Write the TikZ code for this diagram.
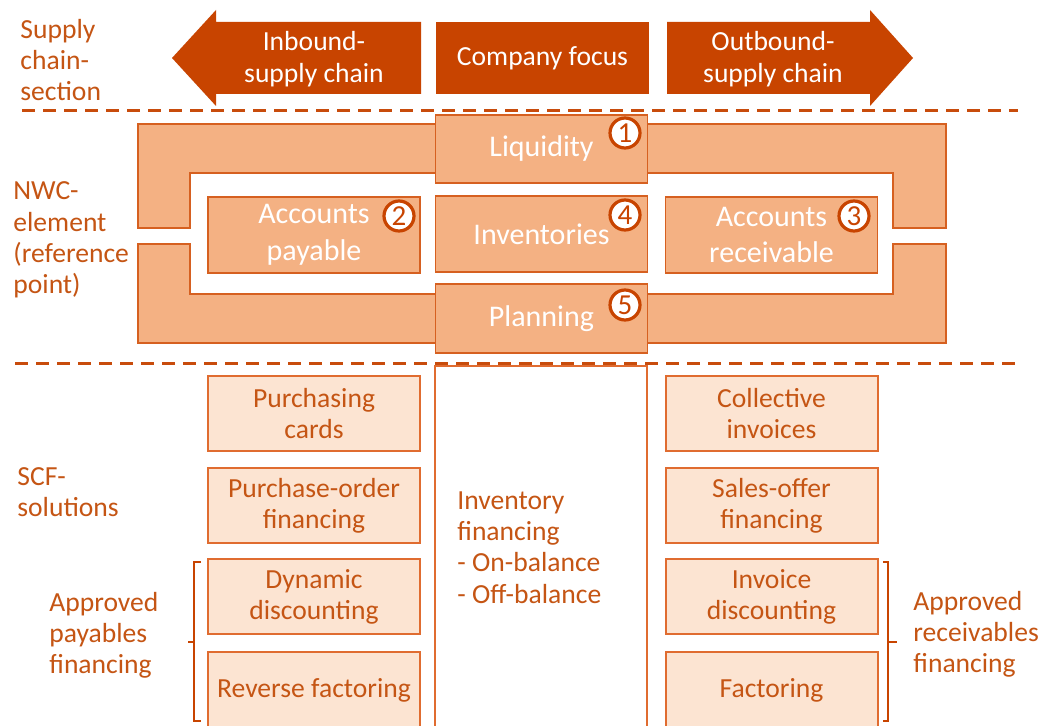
\documentclass[tikz,border=0pt]{standalone}
\usepackage{fontspec}
\setmainfont{Carlito}
\definecolor{arrowor}{RGB}{200,68,0}
\definecolor{textor}{RGB}{197,85,20}
\definecolor{nwcfill}{RGB}{244,177,131}
\definecolor{nwcline}{RGB}{214,96,32}
\definecolor{scffill}{RGB}{252,228,210}
\definecolor{scfline}{RGB}{224,108,48}
\definecolor{dashor}{RGB}{200,76,12}
\begin{document}
\begin{tikzpicture}[x=0.5pt,y=-0.5pt,
  nwcbox/.style={draw=nwcline, fill=nwcfill, line width=0.75pt, text=white,
    font=\fontsize{15}{18.3}\selectfont, align=center, inner sep=0pt,
    minimum width=106pt},
  numc/.style={circle, draw=arrowor, fill=white, line width=1.6pt, text=arrowor,
    font=\fontsize{14.5}{14.5}\selectfont, inner sep=0pt, minimum size=15pt},
  scfbox/.style={draw=scfline, fill=scffill, line width=1pt, text=textor,
    font=\fontsize{13.8}{15.5}\selectfont, align=center, inner sep=0pt,
    minimum width=106pt, minimum height=37.5pt},
  toptext/.style={text=white, font=\fontsize{13.8}{15.75}\selectfont, align=center, inner sep=0pt},
  sidelbl/.style={text=textor, font=\fontsize{13.8}{15.6}\selectfont, align=left, inner sep=0pt, anchor=west},
  sepline/.style={draw=dashor, line width=1.5pt, dash pattern=on 6.5pt off 4pt},
  bracketline/.style={draw=arrowor, line width=1.25pt},
  frameshape/.style={draw=nwcline, fill=nwcfill, line width=0.75pt}
]
\useasboundingbox (0,0) rectangle (1043,726);
\fill[white] (0,0) rectangle (1043,726);

% --- supply chain section ---
\fill[arrowor] (172,58) -- (216,10) -- (216,22) -- (421,22) -- (421,94) -- (216,94) -- (216,106) -- cycle;
\fill[arrowor] (667,22) -- (870,22) -- (870,10) -- (913,58) -- (870,106) -- (870,94) -- (667,94) -- cycle;
\node[toptext] (inb) at (314,59) {Inbound-\\supply chain};
\node[toptext, fill=arrowor, minimum width=106.5pt, minimum height=36pt] (cf) at (542.5,58) {Company focus};
\node[toptext] (outb) at (773,59) {Outbound-\\supply chain};

\node[sidelbl] (sc) at (20,60) {Supply\\chain-\\section};
\draw[sepline] (22,111) -- (1018,111);

% --- NWC elements ---
\path[frameshape] (138,124) -- (946,124) -- (946,228) -- (893,228) -- (893,173) -- (190,173) -- (190,228) -- (138,228) -- cycle;
\path[frameshape] (138,244) -- (190,244) -- (190,294) -- (893,294) -- (893,244) -- (946,244) -- (946,343) -- (138,343) -- cycle;

\node[nwcbox, minimum height=34pt] (liq) at (541.5,149) {Liquidity};
\node[nwcbox, minimum height=38pt] (ap) at (314,235) {Accounts\\payable};
\node[nwcbox, minimum height=38pt] (inv) at (541.5,234) {Inventories};
\node[nwcbox, minimum height=38pt] (ar) at (771.5,235) {Accounts\\receivable};
\node[nwcbox, minimum height=34.5pt] (plan) at (541.5,318.5) {Planning};

\node[numc] (c1) at (625,133) {1};
\node[numc] (c2) at (399,216) {2};
\node[numc] (c4) at (625,215) {4};
\node[numc] (c3) at (854,216) {3};
\node[numc] (c5) at (625,305) {5};

\node[sidelbl] (nwc) at (13,240) {NWC-\\element\\(reference\\point)};
\draw[sepline] (15,364) -- (1015,364);

% --- SCF solutions ---
\node[scfbox, fill=white, minimum height=183pt] (invbox) at (541,549) {};
\node[sidelbl] (invt) at (457,547.5) {Inventory\\financing\\- On-balance\\- Off-balance};

\node[scfbox] (pc) at (314,413.5) {Purchasing\\cards};
\node[scfbox] (po) at (314,505.5) {Purchase-order\\financing};
\node[scfbox] (dd) at (314,596.5) {Dynamic\\discounting};
\node[scfbox, minimum height=38.5pt] (rf) at (314,690.5) {Reverse factoring};

\node[scfbox] (ci) at (771.5,413.5) {Collective\\invoices};
\node[scfbox] (so) at (771.5,505.5) {Sales-offer\\financing};
\node[scfbox] (id) at (771.5,596.5) {Invoice\\discounting};
\node[scfbox, minimum height=38.5pt] (fa) at (771.5,690.5) {Factoring};

\draw[bracketline] (201,562) -- (194,562) -- (194,721) -- (201,721);
\draw[bracketline] (194,642) -- (188,642);
\draw[bracketline] (883,562) -- (888,562) -- (888,721) -- (883,721);
\draw[bracketline] (888,642) -- (897,642);

\node[sidelbl] (scf) at (17,492) {SCF-\\solutions};
\node[sidelbl] (apf) at (49,635) {Approved\\payables\\financing};
\node[sidelbl] (arf) at (913,634) {Approved\\receivables\\financing};
\end{tikzpicture}
\end{document}
